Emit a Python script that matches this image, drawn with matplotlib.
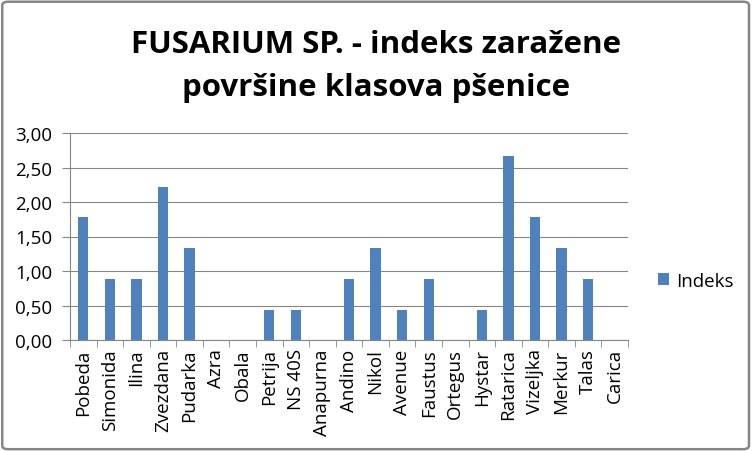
import numpy as np
import matplotlib.pyplot as plt
from matplotlib.patches import FancyBboxPatch

sorte = ["Pobeda", "Simonida", "Ilina", "Zvezdana", "Pudarka", "Azra", "Obala",
         "Petrija", "NS 40S", "Anapurna", "Andino", "Nikol", "Avenue", "Faustus",
         "Ortegus", "Hystar", "Ratarica", "Vizeljka", "Merkur", "Talas", "Carica"]
indeks = [1.78, 0.89, 0.89, 2.22, 1.33, 0, 0, 0.44, 0.44, 0, 0.89, 1.33, 0.44,
          0.89, 0, 0.44, 2.67, 1.78, 1.33, 0.89, 0]
yticks = [0, 0.5, 1.0, 1.5, 2.0, 2.5, 3.0]

plt.rcParams['font.family'] = ['Open Sans', 'DejaVu Sans']

fig = plt.figure(figsize=(7.52, 4.52), dpi=100)
fig.patches.append(FancyBboxPatch((0.003, 0.004), 0.993, 0.99, boxstyle="round,pad=0,rounding_size=0.008",
                                  transform=fig.transFigure, fill=False, edgecolor="#868686", lw=1.8))

ax = fig.add_axes([70 / 752, 111 / 452, 558 / 752, 207 / 452])
x = np.arange(len(sorte))
ax.bar(x, indeks, width=0.39, color="#4F81BD", label="Indeks", zorder=3)

ax.set_xlim(-0.5, len(sorte) - 0.5)
ax.set_ylim(0, 3)
ax.set_yticks(yticks)
ax.set_yticklabels([("%.2f" % v).replace(".", ",") for v in yticks], fontsize=13.5)
ax.set_xticks(x)
ax.set_xticklabels(sorte, rotation=90, fontsize=13.5)
ax.tick_params(axis="y", length=6, color="#868686", pad=7)
ax.tick_params(axis="x", length=0, pad=6)
ax.set_xticks(np.arange(-0.5, len(sorte)), minor=True)
ax.tick_params(axis="x", which="minor", length=5, color="#868686")
ax.grid(axis="y", color="#868686", lw=0.8, zorder=0)
for s in ["top", "right"]:
    ax.spines[s].set_visible(False)
ax.spines["left"].set_color("#868686")
ax.spines["bottom"].set_color("#868686")

fig.text(0.5, 1 - 45 / 452, "FUSARIUM SP. - indeks zaražene", ha="center",
         va="center", fontsize=22.5, fontweight="bold")
fig.text(0.5, 1 - 88 / 452, "površine klasova pšenice", ha="center",
         va="center", fontsize=22.5, fontweight="bold")

fig.legend(*ax.get_legend_handles_labels(), loc="center left",
           bbox_to_anchor=(641 / 752, 1 - 282 / 452), frameon=False, fontsize=13.5,
           handlelength=0.6, handleheight=0.6, handletextpad=0.4)

fig.savefig("out.png", dpi=100)
